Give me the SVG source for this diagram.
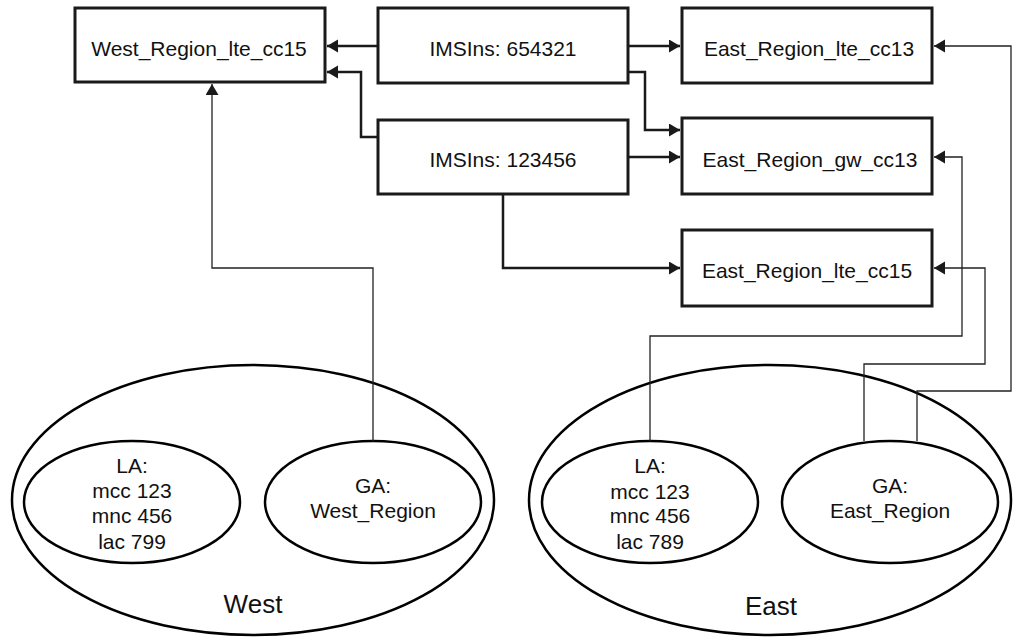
<svg xmlns="http://www.w3.org/2000/svg" width="1013" height="638" viewBox="0 0 1013 638">
<style>
.box{fill:#fff;stroke:#1a1a1a;stroke-width:3}
.ell{fill:none;stroke:#000;stroke-width:2.5}
.t{font-family:"Liberation Sans",Arial,sans-serif;font-size:21px;fill:#111;text-anchor:middle}
.big{font-size:26px}
.thick{fill:none;stroke:#1a1a1a;stroke-width:2.5}
.thin{fill:none;stroke:#222;stroke-width:1.3}
</style>
<defs>
<marker id="ah" markerUnits="userSpaceOnUse" markerWidth="12" markerHeight="14" refX="11" refY="6.5" orient="auto">
<path d="M0,0 L11,6.5 L0,13 z" fill="#1a1a1a"/>
</marker>
</defs>
<rect width="1013" height="638" fill="#fff"/>
<g id="West">
<ellipse class="ell" cx="253" cy="500" rx="241" ry="135"/>
<text class="t big" x="253" y="613">West</text>
</g>
<g id="East">
<ellipse class="ell" cx="770" cy="500" rx="241" ry="135"/>
<text class="t big" x="771" y="615">East</text>
</g>
<g id="West_LA">
<ellipse class="ell" cx="132" cy="502" rx="108" ry="61"/>
<text class="t" x="132" y="473">LA:</text>
<text class="t" x="132" y="498">mcc 123</text>
<text class="t" x="132" y="523">mnc 456</text>
<text class="t" x="132" y="549">lac 799</text>
</g>
<g id="West_GA">
<ellipse class="ell" cx="373" cy="502" rx="108" ry="61"/>
<text class="t" x="373" y="493">GA:</text>
<text class="t" x="373" y="518">West_Region</text>
</g>
<g id="East_LA">
<ellipse class="ell" cx="650" cy="502" rx="108" ry="61"/>
<text class="t" x="650" y="473">LA:</text>
<text class="t" x="650" y="499">mcc 123</text>
<text class="t" x="650" y="523">mnc 456</text>
<text class="t" x="650" y="549">lac 789</text>
</g>
<g id="East_GA">
<ellipse class="ell" cx="890" cy="502" rx="108" ry="61"/>
<text class="t" x="890" y="493">GA:</text>
<text class="t" x="890" y="518">East_Region</text>
</g>
<g id="connectors">
<path class="thick" d="M378,46 H327" marker-end="url(#ah)"/>
<path class="thick" d="M378,137 H361 V72 H327" marker-end="url(#ah)"/>
<path class="thick" d="M628,46 H680" marker-end="url(#ah)"/>
<path class="thick" d="M628,72 H645 V130 H680" marker-end="url(#ah)"/>
<path class="thick" d="M628,157 H680" marker-end="url(#ah)"/>
<path class="thick" d="M503,194 V268 H680" marker-end="url(#ah)"/>
<path class="thin" d="M373,441 V268 H212 V84" marker-end="url(#ah)"/>
<path class="thin" d="M650,441 V336 H962 V157 H934" marker-end="url(#ah)"/>
<path class="thin" d="M864,441 V364 H985 V268 H934" marker-end="url(#ah)"/>
<path class="thin" d="M917,441 V391 H1011 V46 H934" marker-end="url(#ah)"/>
</g>
<g id="West_Region_lte_cc15">
<rect class="box" x="75" y="8" width="250" height="74"/>
<text class="t" x="199" y="56">West_Region_lte_cc15</text>
</g>
<g id="IMSIns_654321">
<rect class="box" x="378" y="8" width="250" height="75"/>
<text class="t" x="503" y="56">IMSIns: 654321</text>
</g>
<g id="IMSIns_123456">
<rect class="box" x="378" y="120" width="250" height="74"/>
<text class="t" x="503" y="167">IMSIns: 123456</text>
</g>
<g id="East_Region_lte_cc13">
<rect class="box" x="682" y="8" width="250" height="75"/>
<text class="t" x="809" y="56">East_Region_lte_cc13</text>
</g>
<g id="East_Region_gw_cc13">
<rect class="box" x="682" y="118" width="250" height="76"/>
<text class="t" x="810" y="167">East_Region_gw_cc13</text>
</g>
<g id="East_Region_lte_cc15">
<rect class="box" x="682" y="230" width="250" height="76"/>
<text class="t" x="807" y="278">East_Region_lte_cc15</text>
</g>
</svg>
